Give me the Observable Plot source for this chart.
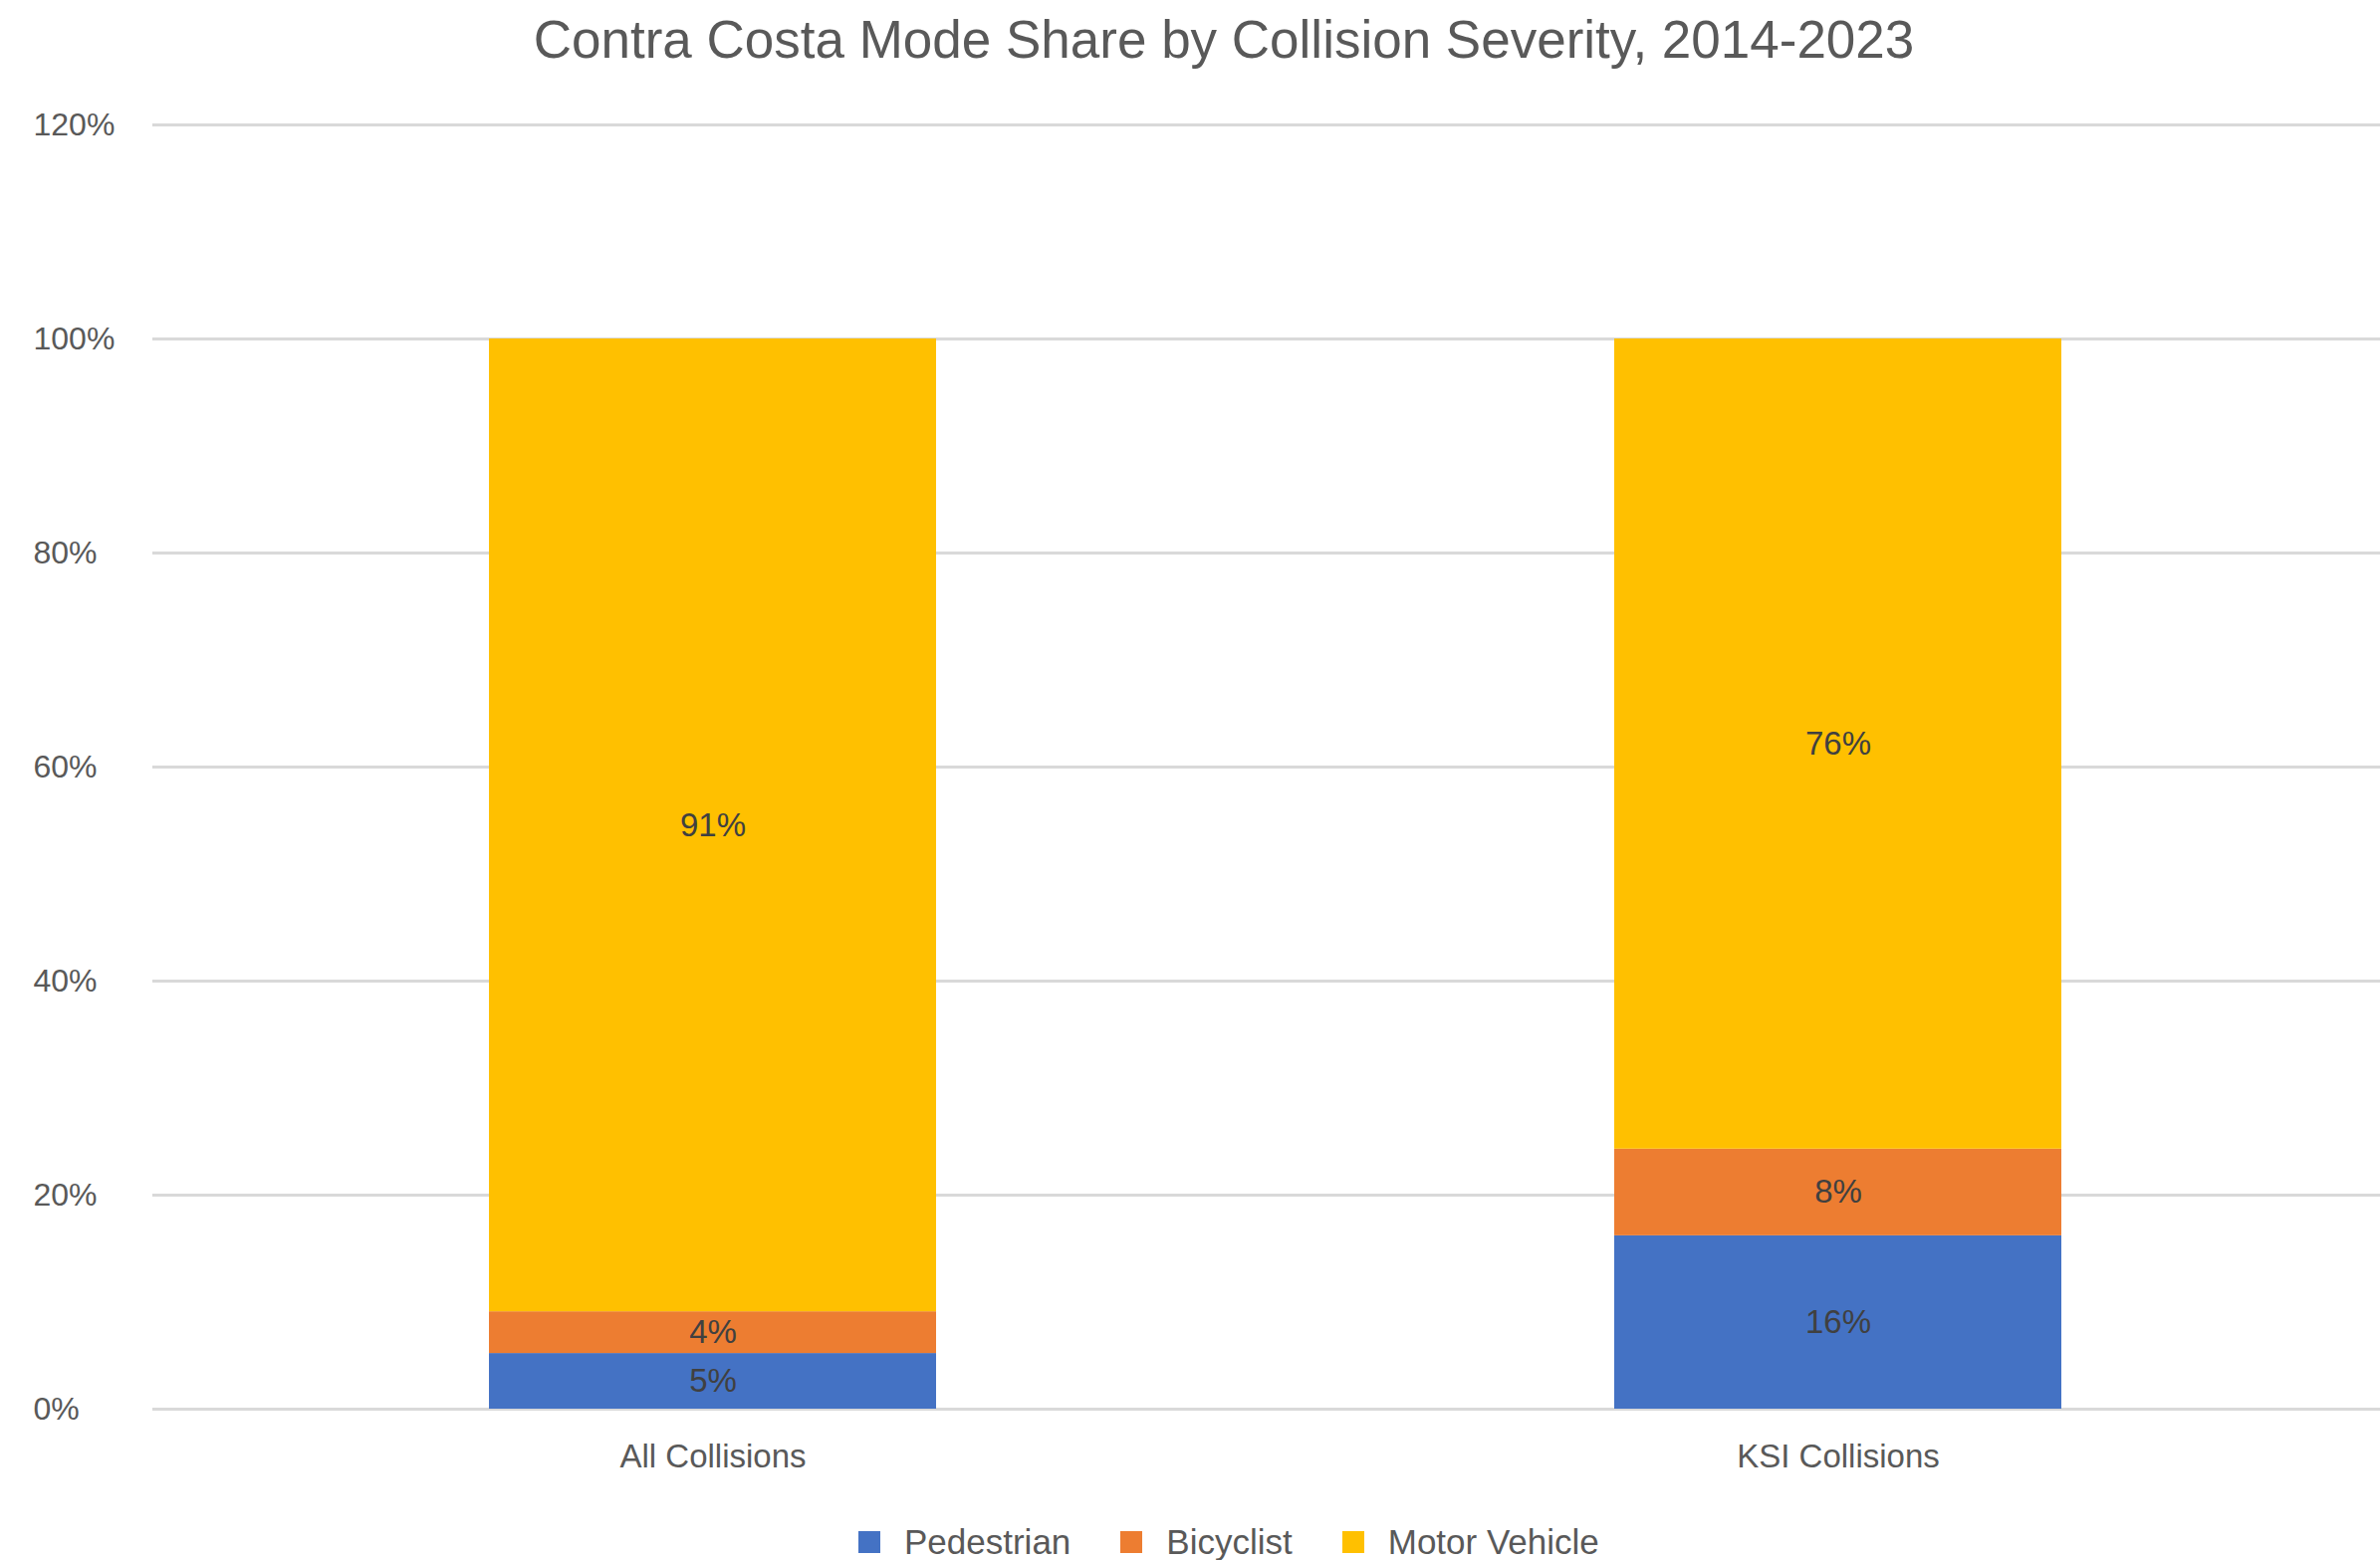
<!DOCTYPE html>
<html>
<head>
<meta charset="utf-8">
<script src="https://cdn.jsdelivr.net/npm/d3@7"></script>
<script src="https://cdn.jsdelivr.net/npm/@observablehq/plot@0.6"></script>
<style>
  html, body { margin: 0; padding: 0; background: #fff; overflow: hidden; }
  #wrap { position: relative; width: 2390px; height: 1567px; font-family: "Liberation Sans", Arial, sans-serif; }
  #title { position: absolute; top: 13px; left: 1229px; transform: translateX(-50%); white-space: nowrap;
           font-size: 53px; line-height: 53px; color: #595959; }
  #chart { position: absolute; top: 90px; left: 0; }
  #legend { position: absolute; top: 1531px; left: 862px; display: flex; align-items: center; height: 35px;
            font-size: 35px; line-height: 35px; color: #595959; white-space: nowrap; }
  .item { display: flex; align-items: center; margin-right: 50px; }
  .sw { width: 22px; height: 22px; margin-right: 24px; }
</style>
</head>
<body>
<div id="wrap">
  <div id="title"></div>
  <div id="chart"></div>
  <div id="legend"></div>
</div>
<script>
const titleText = "Contra Costa Mode Share by Collision Severity, 2014-2023";
const categories = ["All Collisions", "KSI Collisions"];
const modes = ["Pedestrian", "Bicyclist", "Motor Vehicle"];
const pedestrian = [5.2, 16.2];
const bicyclist = [3.9, 8.1];
const motorVehicle = [90.9, 75.7];
const modeColors = ["#4472C4", "#ED7D31", "#FFC000"];
const yTicks = [0, 20, 40, 60, 80, 100, 120];

const series = [pedestrian, bicyclist, motorVehicle];
const data = [];
categories.forEach((c, i) => {
  modes.forEach((m, j) => data.push({category: c, mode: m, value: series[j][i]}));
});

document.getElementById("title").textContent = titleText;

const font = '"Liberation Sans", Arial, sans-serif';
const chart = Plot.plot({
  width: 2390,
  height: 1410,
  marginLeft: 153,
  marginRight: 0,
  marginTop: 35,
  marginBottom: 85,
  style: {fontFamily: font, fontSize: "32px", color: "#595959", background: "transparent", overflow: "visible"},
  x: {domain: categories, range: [150.5, 2410.5], paddingInner: 0.603, paddingOuter: 0.3015, axis: null, label: null},
  y: {domain: [0, 120], axis: null, label: null},
  color: {domain: modes, range: modeColors},
  marks: [
    Plot.ruleY(yTicks, {stroke: "#D9D9D9", strokeWidth: 3}),
    Plot.barY(data, Plot.stackY({x: "category", y: "value", fill: "mode", order: null})),
    Plot.text(data, Plot.stackY({x: "category", y: "value", z: "mode", order: null,
      text: d => Math.round(d.value) + "%", fill: "#404040", fontSize: 33})),
    Plot.axisY(yTicks, {tickSize: 0, tickPadding: 120, textAnchor: "start", fontSize: 32,
      tickFormat: d => d + "%", label: null}),
    Plot.axisX({tickSize: 0, tickPadding: 35, fontSize: 33, label: null})
  ]
});
document.getElementById("chart").appendChild(chart);

const legend = document.getElementById("legend");
modes.forEach((m, i) => {
  const item = document.createElement("div");
  item.className = "item";
  const sw = document.createElement("div");
  sw.className = "sw";
  sw.style.background = modeColors[i];
  const t = document.createElement("span");
  t.textContent = m;
  item.appendChild(sw);
  item.appendChild(t);
  legend.appendChild(item);
});
</script>
</body>
</html>
